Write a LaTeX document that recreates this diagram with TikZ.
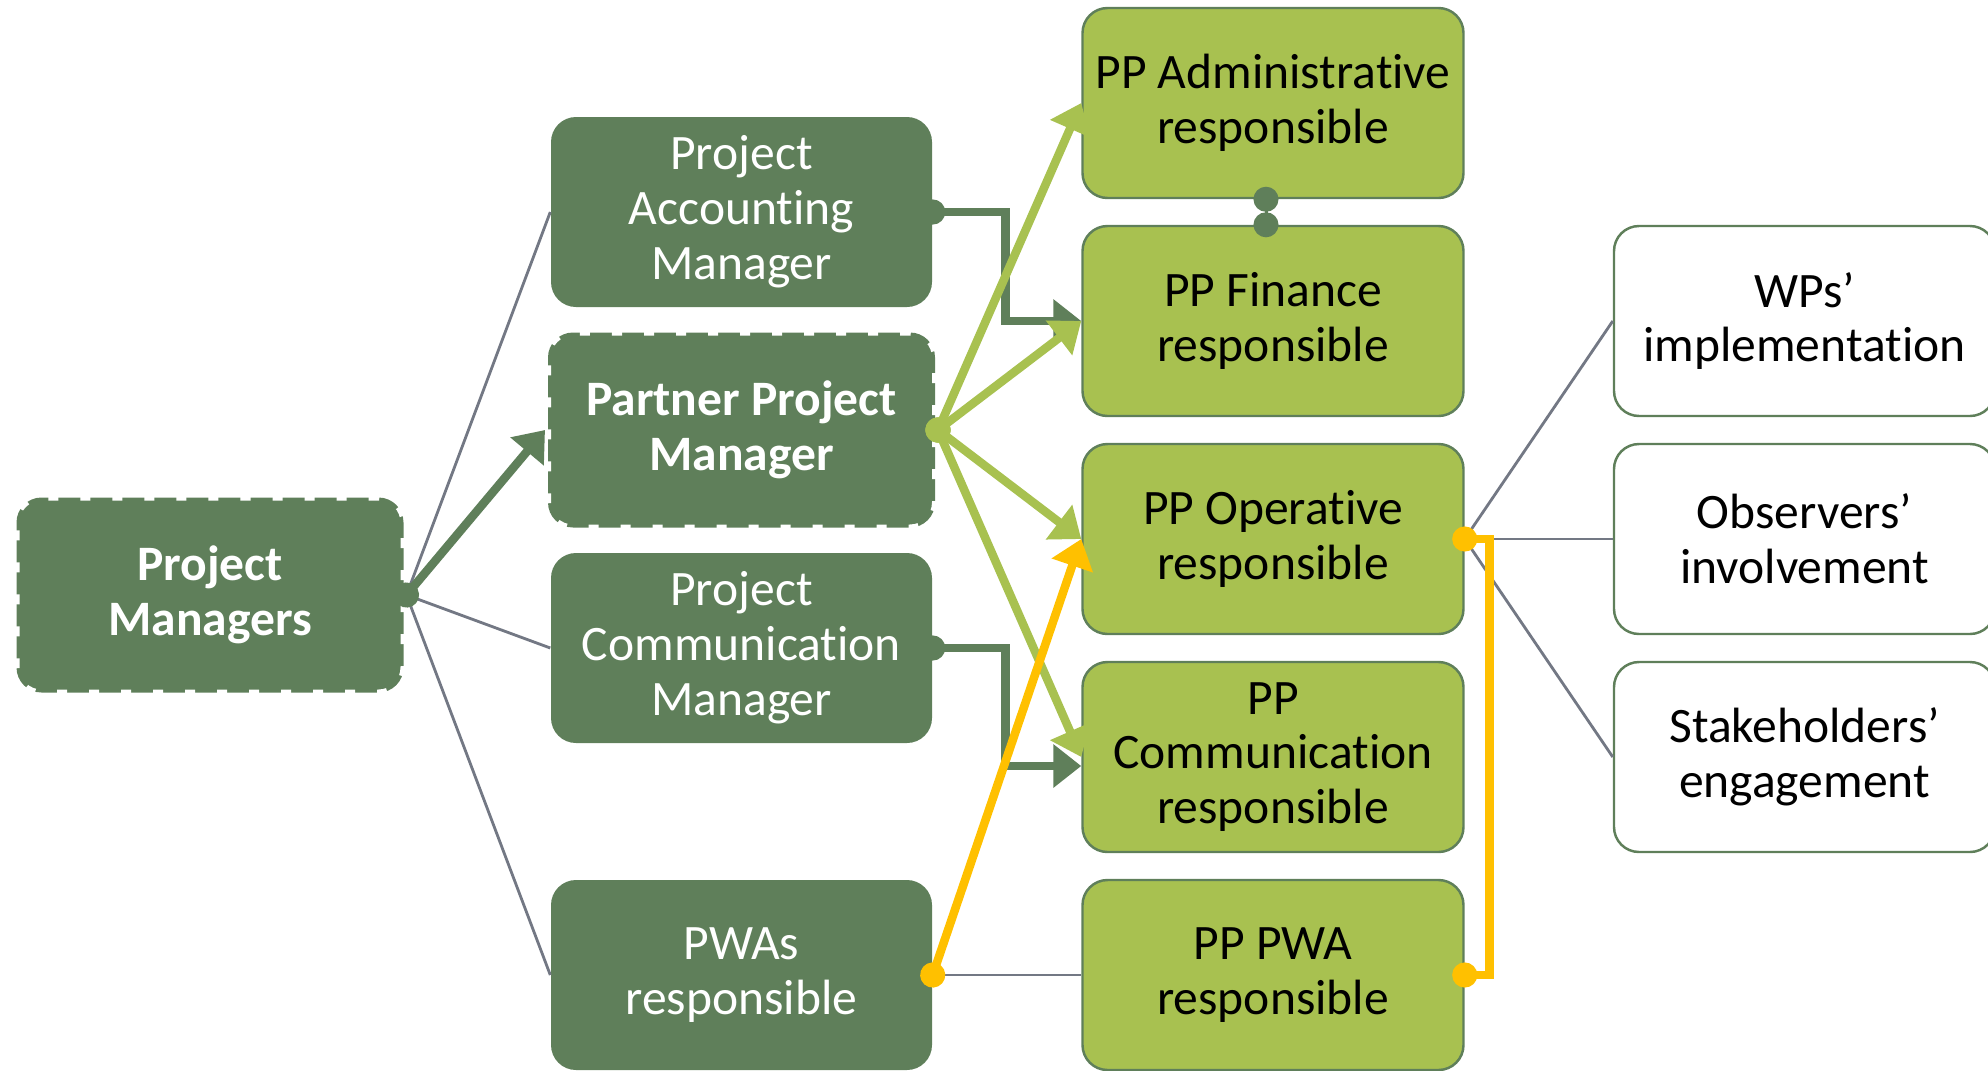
\documentclass[tikz,border=0pt]{standalone}
\usepackage{fontspec}
\setmainfont{Carlito}[Ligatures=NoCommon]
\usetikzlibrary{arrows.meta}
\definecolor{dkgreen}{HTML}{5F7F5A}
\definecolor{ltgreen}{HTML}{A8C150}
\definecolor{amber}{HTML}{FFC000}
\definecolor{linegray}{HTML}{737884}
\newcommand{\boxfont}{\fontsize{14.1}{15.6}\selectfont}

\begin{document}
\begin{tikzpicture}[box/.style={shape=rectangle,rounded corners=0.25cm,minimum width=3.81cm,minimum height=1.9cm,inner sep=0pt,align=center,font=\boxfont},boxD/.style={box,fill=dkgreen,text=white},boxDash/.style={boxD,draw=white,line width=0.06cm,dash pattern=on 0.1cm off 0.22cm,minimum width=3.87cm,minimum height=1.95cm,font=\boxfont\bfseries},boxL/.style={box,fill=ltgreen,draw=dkgreen,line width=0.7pt},boxW/.style={box,fill=white,draw=dkgreen,line width=0.7pt},grayline/.style={draw=linegray,line width=0.8pt},link/.style={line width=0.085cm,{Circle[length=0.25cm]}-{Triangle[length=0.28cm,width=0.42cm]},shorten <=-0.125cm},dkLink/.style={link,draw=dkgreen},ltLink/.style={link,draw=ltgreen},ylLink/.style={link,draw=amber}]
\def\dx{5.315}
\def\dy{-2.18}
\def\xa{2.10}
\def\ya{-1.03}

\useasboundingbox (0,0) rectangle (19.88,-10.70);

\node[boxDash] (PM) at (\xa,-5.95) {Project\\Managers};

\node[boxD] (PAM) at (\xa+\dx,\ya+0.5*\dy) {Project\\Accounting\\Manager};
\node[boxDash] (PPM) at (\xa+\dx,\ya+1.5*\dy) {Partner Project\\Manager};
\node[boxD] (PCM) at (\xa+\dx,\ya+2.5*\dy) {Project\\Communication\\Manager};
\node[boxD] (PWA) at (\xa+\dx,\ya+4*\dy) {PWAs\\responsible};

\node[boxL] (ADM) at (\xa+2*\dx,\ya) {PP Administrative\\responsible};
\node[boxL] (FIN) at (\xa+2*\dx,\ya+\dy) {PP Finance\\responsible};
\node[boxL] (OPE) at (\xa+2*\dx,\ya+2*\dy) {PP Operative\\responsible};
\node[boxL] (COM) at (\xa+2*\dx,\ya+3*\dy) {PP\\Communication\\responsible};
\node[boxL] (PPW) at (\xa+2*\dx,\ya+4*\dy) {PP PWA\\responsible};

\node[boxW] (WPS) at (\xa+3*\dx,\ya+\dy) {WPs’\\implementation};
\node[boxW] (OBS) at (\xa+3*\dx,\ya+2*\dy) {Observers’\\involvement};
\node[boxW] (STK) at (\xa+3*\dx,\ya+3*\dy) {Stakeholders’\\engagement};

% grey links
\draw[grayline] (PM.east) -- (PAM.west);
\draw[grayline] (PM.east) -- (PCM.west);
\draw[grayline] (PM.east) -- (PWA.west);
\draw[grayline] (PWA.east) -- (PPW.west);
\draw[grayline] (OPE.east) -- (WPS.west);
\draw[grayline] (OPE.east) -- (OBS.west);
\draw[grayline] (OPE.east) -- (STK.west);

% dark green
\draw[dkLink] (PM.east) -- (PPM.west);
\draw[dkLink] (PAM.east) -- ++(0.73,0) |- (FIN.west);
\draw[dkLink] (PCM.east) -- ++(0.73,0) |- ([yshift=-0.09cm]COM.west);
\draw[dkgreen,line width=0.03cm,{Circle[length=0.25cm]}-{Circle[length=0.25cm]},shorten <=-0.125cm,shorten >=-0.125cm] ([xshift=-0.07cm]ADM.south) -- ([xshift=-0.07cm]FIN.north);

% light green
\draw[ltLink] (PPM.east) -- (ADM.west);
\draw[ltLink] (PPM.east) -- (FIN.west);
\draw[ltLink] (PPM.east) -- (OPE.west);
\draw[ltLink] (PPM.east) -- (COM.west);

% yellow
\draw[ylLink] (PWA.east) -- (OPE.west);
\draw[amber,line width=0.085cm,{Circle[length=0.25cm]}-{Circle[length=0.25cm]},shorten <=-0.125cm,shorten >=-0.125cm] (OPE.east) -- ++(0.25,0) |- (PPW.east);
\end{tikzpicture}
\end{document}
